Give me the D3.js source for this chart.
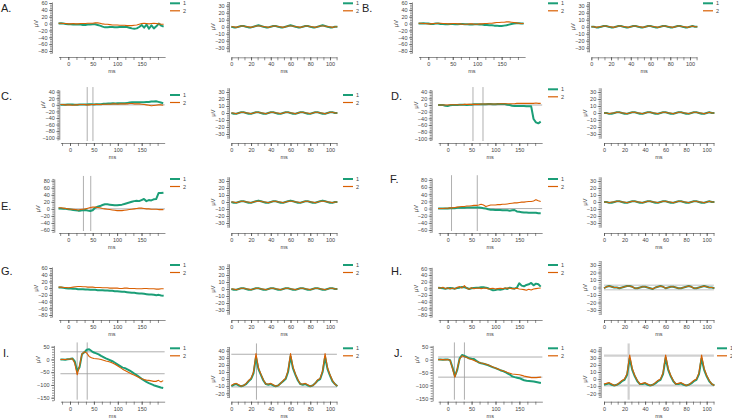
<!DOCTYPE html>
<html><head><meta charset="utf-8">
<script src="https://cdn.jsdelivr.net/npm/d3@7/dist/d3.min.js"></script>
<style>body{margin:0;background:#fff}svg text{font-family:"Liberation Sans",Arial,sans-serif}</style>
</head><body><svg id="c" width="732" height="420"></svg>
<script>
// ---------- data ----------
const tLeft = [-20,-15,-10,-5,0,5,10,15,20,25,30,35,40,45,50,55,60,65,70,75,80,85,90,95,100,105,110,115,120,125,130,135,140,145,150,155,160,165,170,175,180,185,190,195];
const tRight = [0,2.5,5,7.5,10,12.5,15,17.5,20,22.5,25,27.5,30,32.5,35,37.5,40,42.5,45,47.5,50,52.5,55,57.5,60,62.5,65,67.5,70,72.5,75,77.5,80,82.5,85,87.5,90,92.5,95,97.5,100,102.5,105,107.5];
const seriesNames = ["1","2"];
const letters = ["A.","B.","C.","D.","E.","F.","G.","H.","I.","J."];

const A_1 = [0,1,0,-1,-2,-2,-3,-3,-3,-3,-4,-4,-3,-3,-2,-2,-4,-6,-9,-11,-11,-10,-10,-11,-11,-10,-9,-10,-10,-12,-14,-15,-14,-10,-4,-12,-3,-15,-5,-14,-8,0,-6,-9];
const A_2 = [1,1,0,0,-1,-1,0,-1,-1,0,0,0,1,1,1,2,2,1,-1,-2,-2,-3,-4,-4,-4,-5,-5,-5,-6,-6,-6,-5,-4,-2,0,1,0,-1,0,1,0,-1,-2,-2];
const B_1 = [0,0,1,0,0,-1,-1,0,0,-1,-1,-2,-2,-1,-1,-2,-2,-1,-1,-2,-2,-3,-3,-2,-2,-3,-3,-4,-4,-5,-5,-6,-6,-7,-7,-6,-5,-3,-1,0,1,1,0,0];
const B_2 = [1,1,0,0,-1,-1,0,0,1,1,0,0,-1,-1,0,0,-1,-1,-2,-2,-2,-1,-1,-2,-2,-1,-1,0,0,1,1,2,3,3,4,4,5,5,4,3,2,1,0,0];
const C_1 = [0,0,0,1,1,1,0,0,1,1,1,1,2,2,1,2,2,2,3,3,4,4,5,4,5,5,5,5,6,7,8,8,8,8,8,8,9,9,10,10,11,9,7,5];
const C_2 = [1,1,0,0,0,-1,0,0,1,1,1,0,0,1,1,2,1,1,2,2,2,2,3,3,2,3,3,3,3,4,4,3,3,3,2,1,0,-1,-3,-2,-1,0,0,-1];
const D_1 = [0,0,0,-2,-3,-1,0,0,0,1,1,1,0,1,1,2,2,2,2,2,2,3,3,2,2,3,3,3,3,1,0,-2,-3,-3,-3,-3,-3,-4,-4,-4,-42,-52,-55,-50];
const D_2 = [0,0,0,0,0,1,1,1,1,1,1,2,2,2,2,2,2,2,3,3,3,3,3,3,3,3,4,4,4,4,4,4,4,5,5,5,5,5,5,5,5,6,5,5];
const E_1 = [1,1,0,0,-1,-2,-3,-4,-5,-5,-4,-3,-5,-6,-4,3,6,8,11,13,13,12,11,10,10,11,12,14,16,18,20,22,23,22,25,28,22,25,24,27,28,45,45,46];
const E_2 = [3,3,2,1,0,-1,-1,-2,-3,-2,-1,0,2,4,5,5,4,3,1,0,-1,-2,-3,-4,-5,-5,-5,-4,-3,-2,-1,0,1,2,2,1,0,0,-1,-1,-1,-2,-2,-2];
const F_1 = [0,0,0,0,0,1,1,1,2,2,2,2,3,3,3,3,3,3,2,1,0,-2,-3,-3,-4,-4,-4,-5,-5,-5,-6,-5,-4,-8,-9,-10,-11,-11,-12,-12,-12,-12,-13,-13];
const F_2 = [0,0,0,1,1,2,2,3,4,5,6,6,7,7,8,9,9,10,12,10,6,8,10,10,10,11,11,12,12,13,14,15,16,16,17,18,18,19,20,20,21,25,22,20];
const G_1 = [2,2,1,0,-1,-1,-2,-2,-3,-3,-3,-4,-4,-5,-5,-5,-6,-6,-6,-7,-7,-8,-8,-9,-9,-10,-11,-11,-12,-13,-14,-14,-15,-16,-16,-17,-18,-19,-19,-20,-21,-20,-22,-23];
const G_2 = [3,3,2,2,1,2,3,4,5,5,4,4,3,3,3,2,2,2,1,1,1,0,0,0,0,-1,-1,0,0,-1,-1,-1,-2,-2,-2,-1,-1,-2,-2,-2,-3,-3,-2,-2];
const H_1 = [2,1,0,-1,0,1,0,-1,1,2,4,3,1,-2,0,1,2,2,3,3,2,0,-3,-6,-5,-3,-4,-3,0,-2,2,0,-1,2,15,8,6,10,12,16,9,14,12,5];
const H_2 = [2,0,3,-1,2,-2,1,-2,3,5,1,8,0,-3,2,-1,0,1,-1,0,1,-2,-1,0,-2,-1,0,-1,0,1,0,-1,-1,0,-2,-3,-4,-6,-3,-5,-2,-1,0,1];
const I_1 = [0,0,-1,1,2,4,-8,-45,-30,20,28,38,40,33,27,24,20,14,9,4,0,-4,-8,-14,-20,-26,-32,-34,-39,-44,-50,-56,-62,-69,-76,-82,-88,-93,-97,-101,-104,-107,-110,-112];
const I_2 = [0,0,0,1,2,3,-15,-60,-25,22,30,25,12,7,4,3,2,0,-3,-6,-8,-11,-15,-20,-26,-32,-38,-43,-48,-53,-58,-62,-67,-72,-76,-79,-81,-82,-84,-86,-86,-82,-88,-83];
const J_1 = [0,0,-1,0,0,-2,-30,-64,-40,5,18,14,10,5,3,2,-5,-11,-14,-16,-19,-22,-26,-30,-33,-37,-41,-44,-48,-53,-58,-65,-68,-70,-72,-76,-80,-82,-83,-84,-85,-87,-89,-91];
const J_2 = [0,0,0,-1,0,-3,-35,-68,-35,2,15,11,8,3,0,-3,-7,-10,-13,-15,-18,-21,-25,-29,-33,-36,-40,-43,-46,-50,-53,-56,-57,-58,-59,-61,-64,-66,-68,-70,-70,-70,-69,-68];

const Ar_1 = [0,-1,-1,0,1,1,0,-1,-1,0,1,2,1,0,-1,-1,0,1,1,0,-1,-1,0,1,2,1,0,-1,-1,0,1,1,0,-1,-1,0,1,2,1,0,-1,-1,0,0];
const Ar_2 = [0,0,-1,0,1,1,0,0,-1,0,1,1,1,0,0,-1,0,1,1,0,0,-1,0,1,1,1,0,0,-1,0,1,1,0,0,-1,0,1,1,1,0,0,-1,0,0];
const Br_1 = [0,0,-1,-1,0,1,1,0,-1,-1,0,1,1,0,-1,-1,0,1,1,0,-1,-1,0,1,1,0,-1,-1,0,1,1,0,-1,-1,0,1,1,0,-1,-1,0,1,0,0];
const Br_2 = [0,0,-1,0,0,1,1,0,0,-1,0,1,1,0,0,-1,0,1,1,0,0,-1,0,1,1,0,0,-1,0,1,1,0,0,-1,0,1,1,0,0,-1,0,1,0,0];
const Cr_1 = [0,-1,-1,0,1,1,0,-1,-1,0,1,1,0,-1,-1,0,1,1,0,-1,-1,0,1,1,0,-1,-1,0,1,1,0,-1,-1,0,1,1,0,-1,-1,0,1,1,0,0];
const Cr_2 = [0,0,-1,0,1,1,0,0,-1,0,1,1,0,0,-1,0,1,1,0,0,-1,0,1,1,0,0,-1,0,1,1,0,0,-1,0,1,1,0,0,-1,0,1,1,0,0];
const Dr_1 = [0,0,-1,-1,0,1,1,0,-1,-1,0,1,1,0,-1,-1,0,1,1,0,-1,-1,0,1,1,0,-1,-1,0,1,1,0,-1,-1,0,1,1,0,-1,-1,0,1,0,0];
const Dr_2 = [0,0,-1,0,0,1,1,0,0,-1,0,1,1,0,0,-1,0,1,1,0,0,-1,0,1,1,0,0,-1,0,1,1,0,0,-1,0,1,1,0,0,-1,0,1,0,0];
const Er_1 = [0,-1,-1,0,1,1,0,-1,-1,0,1,2,1,0,-1,-1,0,1,1,0,-1,-1,0,1,2,1,0,-1,-1,0,1,1,0,-1,-1,0,1,2,1,0,-1,-1,0,0];
const Er_2 = [0,0,-1,0,1,1,0,0,-1,0,1,1,1,0,0,-1,0,1,1,0,0,-1,0,1,1,1,0,0,-1,0,1,1,0,0,-1,0,1,1,1,0,0,-1,0,0];
const Fr_1 = [0,0,-1,-1,0,1,1,0,-1,-1,0,1,1,0,-1,-1,0,1,1,0,-1,-1,0,1,1,0,-1,-1,0,1,1,0,-1,-1,0,1,1,0,-1,-1,0,1,0,0];
const Fr_2 = [0,0,-1,0,0,1,1,0,0,-1,0,1,1,0,0,-1,0,1,1,0,0,-1,0,1,1,0,0,-1,0,1,1,0,0,-1,0,1,1,0,0,-1,0,1,0,0];
const Gr_1 = [0,-1,-1,0,1,1,0,-1,-1,0,1,1,0,-1,-1,0,1,1,0,-1,-1,0,1,1,0,-1,-1,0,1,1,0,-1,-1,0,1,1,0,-1,-1,0,1,1,0,0];
const Gr_2 = [0,0,-1,0,1,1,0,0,-1,0,1,1,0,0,-1,0,1,1,0,0,-1,0,1,1,0,0,-1,0,1,1,0,0,-1,0,1,1,0,0,-1,0,1,1,0,0];
const Hr_1 = [-1,1,2,1,0,0,-1,0,1,2,2,1,-1,-1,0,1,1,0,-1,-2,0,1,2,1,-1,0,1,1,0,-1,-1,0,1,2,1,-1,-1,0,1,2,1,0,0,-1];
const Hr_2 = [-1,1,2,1,0,0,-1,0,1,2,2,1,-1,-1,0,1,1,0,-1,-2,0,1,2,1,-1,0,1,1,0,-1,-1,0,1,2,1,-1,-1,0,1,2,1,0,0,-1];
const Ir_1 = [-10,-8,-7,-9,-10,-9,-7,-3,0,8,31,14,6,-2,-7,-8,-7,-9,-10,-9,-6,-3,0,10,32,15,6,-2,-7,-8,-7,-9,-10,-9,-6,-2,0,10,31,14,5,-3,-7,-10];
const Ir_2 = [-9,-7,-6,-8,-10,-9,-6,-2,1,10,36,16,7,-1,-7,-7,-6,-8,-10,-9,-6,-2,1,12,36,17,7,-1,-7,-7,-6,-8,-10,-9,-6,-1,1,12,36,16,6,-2,-7,-10];
const Jr_1 = [-8,-7,-6,-8,-9,-8,-6,-3,-1,6,29,13,4,-3,-7,-7,-6,-8,-9,-8,-6,-3,-1,7,30,13,4,-3,-7,-7,-6,-8,-9,-8,-6,-3,-1,7,29,13,4,-3,-7,-9];
const Jr_2 = [-7,-6,-5,-7,-9,-8,-5,-2,0,8,34,15,5,-2,-7,-6,-5,-7,-9,-8,-5,-2,0,9,34,15,5,-2,-7,-6,-5,-7,-9,-8,-5,-2,0,9,34,15,5,-2,-7,-9];

const yTicksA = [60,40,20,0,-20,-40,-60,-80];
const yTicksC = [40,20,0,-20,-40,-60,-80,-100];
const yTicksE = [80,60,40,20,0,-20,-40,-60];
const yTicksI = [50,0,-50,-100,-150];
const yTicksR = [30,20,10,0,-10,-20,-30];
const yTicksRI = [40,30,20,10,0,-10,-20];
const xTicksL = [0,50,100,150];
const xTicksR = [0,20,40,60,80,100];

// ---------- layout ----------
const svg = d3.select("#c");
const GREEN = "#1b9e77", ORANGE = "#d95f02";

const panels = [
 {s1:A_1,s2:A_2,t:tLeft,ax:52,xz:68.3,kx:0.489,yv:[60,-80],yp:[3,51],yd:[-86,63],yt:yTicksA,minor:5,xd:[-20,198],xt:xTicksL,xTickY:57,leg:[170,3.3]},
 {s1:B_1,s2:B_2,t:tLeft,ax:412,xz:428.3,kx:0.489,yv:[60,-80],yp:[3,51],yd:[-86,63],yt:yTicksA,minor:5,xd:[-20,198],xt:xTicksL,xTickY:57,leg:[548,3.3]},
 {s1:C_1,s2:C_2,t:tLeft,ax:59.3,xz:70,kx:0.478,yv:[40,-100],yp:[91.7,137.7],yd:[-105,45],yt:yTicksC,minor:5,xd:[-20,198],xt:xTicksL,xTickY:143,leg:[170,95],vl:[36,48],hl:[0]},
 {s1:D_1,s2:D_2,t:tLeft,ax:431.7,xz:447.7,kx:0.477,yv:[40,-100],yp:[91.7,138.3],yd:[-105,45],yt:yTicksC,minor:5,xd:[-20,198],xt:xTicksL,xTickY:143,leg:[548,89.3],vl:[53,74],hl:[0]},
 {s1:E_1,s2:E_2,t:tLeft,ax:54.3,xz:68.3,kx:0.488,yv:[80,-60],yp:[180.7,230],yd:[-66,85],yt:yTicksE,minor:5,xd:[-20,198],xt:xTicksL,xTickY:233,leg:[170,179],vl:[31,46],hl:[0]},
 {s1:F_1,s2:F_2,t:tLeft,ax:431.7,xz:447.7,kx:0.477,yv:[80,-60],yp:[180,230],yd:[-66,85],yt:yTicksE,minor:5,xd:[-20,198],xt:xTicksL,xTickY:233,leg:[548,179],vl:[8,62],hl:[0]},
 {s1:G_1,s2:G_2,t:tLeft,ax:52,xz:68.3,kx:0.489,yv:[60,-80],yp:[268,315],yd:[-86,63],yt:yTicksA,minor:5,xd:[-20,198],xt:xTicksL,xTickY:320,leg:[170,265]},
 {s1:H_1,s2:H_2,t:tLeft,ax:431.7,xz:447.7,kx:0.477,yv:[60,-80],yp:[268.3,315],yd:[-86,63],yt:yTicksA,minor:5,xd:[-20,198],xt:xTicksL,xTickY:320,leg:[548,265]},
 {s1:I_1,s2:I_2,t:tLeft,ax:54,xz:70,kx:0.478,yv:[50,-150],yp:[346.7,397.7],yd:[-160,55],yt:yTicksI,minor:10,xd:[-20,198],xt:xTicksL,xTickY:401.7,leg:[170,348.3],vl:[15,36],hl:[30,-56]},
 {s1:J_1,s2:J_2,t:tLeft,ax:432.7,xz:447.7,kx:0.478,yv:[50,-150],yp:[346.7,398.3],yd:[-160,55],yt:yTicksI,minor:10,xd:[-20,198],xt:xTicksL,xTickY:401.7,leg:[548,348.3],vl:[14,35],hl:[10,-68]},
 {s1:Ar_1,s2:Ar_2,t:tRight,ax:229,xz:231.3,kx:0.987,yv:[30,-30],yp:[5.7,47.7],yd:[-36,36],yt:yTicksR,minor:2.5,xd:[0,107],xt:xTicksR,xTickY:57.3,leg:[343,3.3]},
 {s1:Br_1,s2:Br_2,t:tRight,ax:589,xz:591.3,kx:0.987,yv:[30,-30],yp:[5.7,47.7],yd:[-36,36],yt:yTicksR,minor:2.5,xd:[0,107],xt:xTicksR,xTickY:57.3,leg:[703,3.3]},
 {s1:Cr_1,s2:Cr_2,t:tRight,ax:229,xz:231.3,kx:0.987,yv:[30,-30],yp:[92,134],yd:[-36,36],yt:yTicksR,minor:2.5,xd:[0,107],xt:xTicksR,xTickY:143,leg:[343,95]},
 {s1:Dr_1,s2:Dr_2,t:tRight,ax:600.7,xz:604,kx:1.027,yv:[30,-30],yp:[92,134],yd:[-36,36],yt:yTicksR,minor:2.5,xd:[0,107],xt:xTicksR,xTickY:143,leg:null},
 {s1:Er_1,s2:Er_2,t:tRight,ax:229,xz:231.3,kx:0.987,yv:[30,-30],yp:[181,223],yd:[-36,36],yt:yTicksR,minor:2.5,xd:[0,107],xt:xTicksR,xTickY:233,leg:[343,179]},
 {s1:Fr_1,s2:Fr_2,t:tRight,ax:600.7,xz:604,kx:1.027,yv:[30,-30],yp:[181,223],yd:[-36,36],yt:yTicksR,minor:2.5,xd:[0,107],xt:xTicksR,xTickY:233,leg:null},
 {s1:Gr_1,s2:Gr_2,t:tRight,ax:229,xz:231.3,kx:0.987,yv:[30,-30],yp:[268,310],yd:[-36,36],yt:yTicksR,minor:2.5,xd:[0,107],xt:xTicksR,xTickY:320,leg:[343,265]},
 {s1:Hr_1,s2:Hr_2,t:tRight,ax:600.7,xz:604,kx:1.027,yv:[30,-30],yp:[265,310],yd:[-36,36],yt:yTicksR,minor:2.5,xd:[0,107],xt:xTicksR,xTickY:320,leg:null,band:[3,-3]},
 {s1:Ir_1,s2:Ir_2,t:tRight,ax:229,xz:231.3,kx:0.987,yv:[40,-20],yp:[350.7,393.3],yd:[-26,46],yt:yTicksRI,minor:2.5,xd:[0,107],xt:xTicksR,xTickY:401.7,leg:[343,348.3],vl:[25.5],hl:[35,-11]},
 {s1:Jr_1,s2:Jr_2,t:tRight,ax:600.7,xz:604,kx:1.027,yv:[40,-20],yp:[350.7,393.3],yd:[-26,46],yt:yTicksRI,minor:2.5,xd:[0,107],xt:xTicksR,xTickY:401.7,leg:[717,348.3],vl:[24],hl:[33,-9],light:true}
];

const letterPos = [[1,12],[362,12],[1,100],[391,100],[1,210],[390,183],[1,275],[391,275],[3,357],[394,357]];

function drawPanel(p){
  const g = svg.append("g");
  const ky = (p.yp[1]-p.yp[0])/(p.yv[1]-p.yv[0]);
  const yAt = v => p.yp[0] + (v-p.yv[0])*ky;
  const y = d3.scaleLinear().domain(p.yd).range([yAt(p.yd[0]), yAt(p.yd[1])]);
  const x = d3.scaleLinear().domain(p.xd).range([p.xz+p.xd[0]*p.kx, p.xz+p.xd[1]*p.kx]);

  const refCol = p.light ? "#d0d0d0" : "#9a9a9a";
  const refW = p.light ? 2.2 : 0.8;
  if (p.band) p.band.forEach(v => g.append("line").attr("x1",x(p.xd[0])).attr("x2",x(p.xd[1])).attr("y1",y(v)).attr("y2",y(v)).attr("stroke","#d6d6d6").attr("stroke-width",1.5));
  if (p.hl) p.hl.forEach(v => g.append("line").attr("x1",x(p.xd[0])).attr("x2",x(p.xd[1])).attr("y1",y(v)).attr("y2",y(v)).attr("stroke",refCol).attr("stroke-width",refW));
  if (p.vl) p.vl.forEach(v => g.append("line").attr("x1",x(v)).attr("x2",x(v)).attr("y1",y(p.yd[1])-3).attr("y2",p.xTickY-2).attr("stroke",refCol).attr("stroke-width",refW));

  const minorY = d3.range(Math.ceil(p.yd[0]/p.minor)*p.minor, p.yd[1]+0.01, p.minor);
  g.append("g").attr("transform",`translate(${p.ax},0)`)
    .call(d3.axisLeft(y).tickValues(minorY).tickFormat("").tickSize(2).tickSizeOuter(0))
    .call(s=>s.selectAll("line,path").attr("stroke","#444").attr("stroke-width",0.6));
  g.append("g").attr("transform",`translate(${p.ax},0)`)
    .call(d3.axisLeft(y).tickValues(p.yt).tickSize(3).tickSizeOuter(0).tickPadding(1.5))
    .call(s=>{s.select(".domain").remove();s.selectAll("line").attr("stroke","#444").attr("stroke-width",0.6);
      s.selectAll("text").attr("font-size",5.5).attr("fill","#444").attr("font-family","Liberation Sans, Arial, sans-serif");});
  const xStep = p.xt[1]-p.xt[0];
  const minorX = d3.range(Math.ceil(p.xd[0]/(xStep/3))*(xStep/3), p.xd[1]+0.01, xStep/3);
  g.append("g").attr("transform",`translate(0,${p.xTickY})`)
    .call(d3.axisBottom(x).tickValues(minorX).tickFormat("").tickSize(3).tickSizeOuter(0))
    .call(s=>s.selectAll("line,path").attr("stroke","#444").attr("stroke-width",0.6));
  g.append("g").attr("transform",`translate(0,${p.xTickY})`)
    .call(d3.axisBottom(x).tickValues(p.xt).tickSize(3).tickSizeOuter(0).tickPadding(2))
    .call(s=>{s.select(".domain").remove();s.selectAll("line").attr("stroke","#444").attr("stroke-width",0.6);
      s.selectAll("text").attr("font-size",5.5).attr("fill","#444").attr("font-family","Liberation Sans, Arial, sans-serif");});
  g.append("text").attr("x",(x.range()[0]+x.range()[1])/2).attr("y",p.xTickY+16).attr("text-anchor","middle")
    .attr("font-size",5.5).attr("fill","#444").text("ms");
  g.append("text").attr("transform",`translate(${p.ax-14},${y(0)}) rotate(-90)`).attr("text-anchor","middle")
    .attr("font-size",5.5).attr("fill","#444").text("μV");

  const line = d3.line().x((d,i)=>x(p.t[i])).y(d=>y(d));
  g.append("path").attr("d",line(p.s1)).attr("fill","none").attr("stroke",GREEN).attr("stroke-width",2).attr("stroke-linejoin","round");
  g.append("path").attr("d",line(p.s2)).attr("fill","none").attr("stroke",ORANGE).attr("stroke-width",1.1).attr("stroke-linejoin","round");

  if (p.leg){
    [GREEN,ORANGE].forEach((c,i)=>{
      const ly = p.leg[1] + i*7.5;
      g.append("line").attr("x1",p.leg[0]).attr("x2",p.leg[0]+10).attr("y1",ly).attr("y2",ly).attr("stroke",c).attr("stroke-width",i?1.2:2);
      g.append("text").attr("x",p.leg[0]+13).attr("y",ly+2).attr("font-size",5.5).attr("fill","#444").text(seriesNames[i]);
    });
  }
}
panels.forEach(drawPanel);
letters.forEach((l,i)=>svg.append("text").attr("x",letterPos[i][0]).attr("y",letterPos[i][1]).attr("font-size",11).attr("fill","#222").text(l));
</script></body></html>
